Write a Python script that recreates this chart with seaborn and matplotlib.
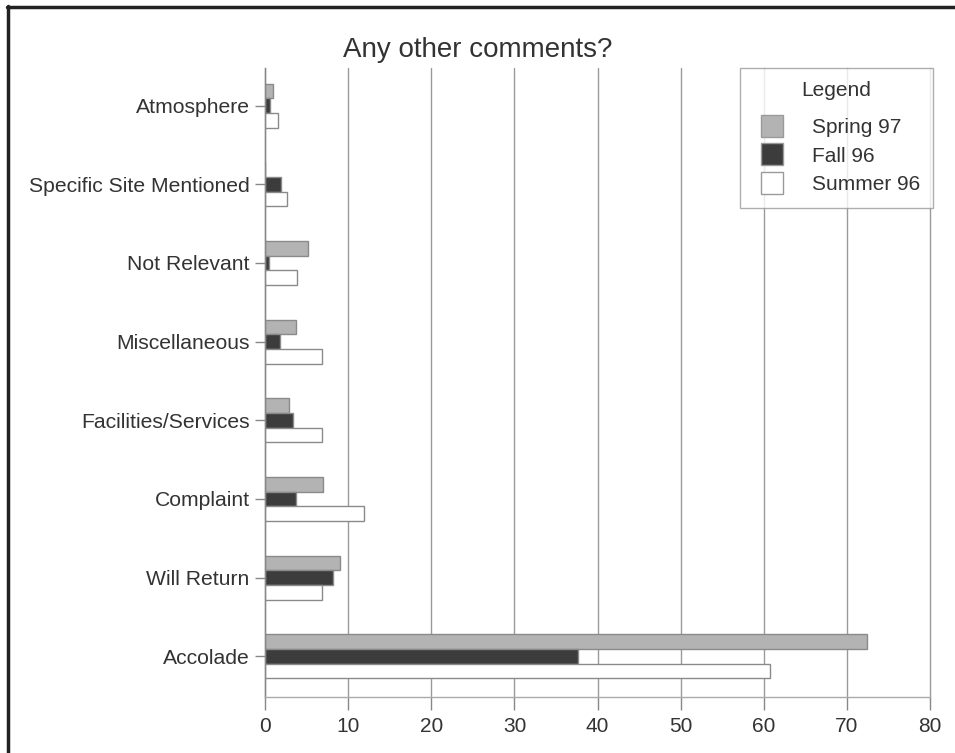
import matplotlib
matplotlib.use("Agg")
import matplotlib.pyplot as plt
import seaborn as sns
import pandas as pd
from matplotlib.lines import Line2D

categories = ["Atmosphere", "Specific Site Mentioned", "Not Relevant", "Miscellaneous",
              "Facilities/Services", "Complaint", "Will Return", "Accolade"]
series = ["Spring 97", "Fall 96", "Summer 96"]
spring97 = [1.0, 0.0, 5.2, 3.7, 2.9, 7.0, 9.0, 72.4]
fall96 = [0.6, 1.9, 0.5, 1.8, 3.4, 3.7, 8.2, 37.7]
summer96 = [1.6, 2.7, 3.8, 6.9, 6.9, 11.9, 6.9, 60.7]
xticks = [0, 10, 20, 30, 40, 50, 60, 70, 80]

rows = []
for name, vals in zip(series, [spring97, fall96, summer96]):
    for c, v in zip(categories, vals):
        rows.append({"Category": c, "Series": name, "Value": v})
df = pd.DataFrame(rows)

sns.set_theme(style="white")
plt.rcParams["font.family"] = ["Liberation Sans", "DejaVu Sans"]

fig = plt.figure(figsize=(9.55, 7.53), dpi=100)
ax = fig.add_axes([0.2775, 0.074, 0.6965, 0.836])

palette = {"Spring 97": "#b3b3b3", "Fall 96": "#3c3c3c", "Summer 96": "#ffffff"}
sns.barplot(data=df, y="Category", x="Value", hue="Series", order=categories,
            hue_order=series, palette=palette, orient="h", width=0.56,
            edgecolor="#8a8a8a", linewidth=1.0, ax=ax, legend=False, saturation=1)

ax.set_xlim(0, 80)
ax.set_ylim(len(categories) - 1 + 0.52, -0.48)
ax.set_xticks(xticks)
ax.set_xticklabels([str(t) for t in xticks], fontsize=15, color="#333333")
ax.tick_params(axis="y", labelsize=15.2, labelcolor="#333333", length=7, color="#888888",
               width=1, direction="out", pad=4, left=True)
ax.tick_params(axis="x", length=9, color="#888888", width=1, direction="out", pad=5,
               bottom=True)
ax.set_xlabel("")
ax.set_ylabel("")
ax.xaxis.grid(True, color="#9a9a9a", linewidth=1.0)
for gl in ax.get_xgridlines():
    gl.set_clip_on(False)
ax.yaxis.grid(False)
ax.set_axisbelow(True)
for s in ["top", "right"]:
    ax.spines[s].set_visible(False)
ax.spines["left"].set_color("#888888")
ax.spines["bottom"].set_color("#aaaaaa")
ax.spines["left"].set_linewidth(1.0)
ax.spines["bottom"].set_linewidth(1.0)

fig.text(0.5, 0.933, "Any other comments?", ha="center", va="center", fontsize=20,
         color="#333333")

handles = [Line2D([0], [0], marker="s", linestyle="", markersize=16,
                  markerfacecolor=palette[s], markeredgecolor="#9a9a9a", label=s)
           for s in series]
leg = ax.legend(handles=handles, title="Legend", loc="upper right",
                bbox_to_anchor=(1.005, 1.0), fontsize=15, title_fontsize=15,
                frameon=True, fancybox=False, edgecolor="#9a9a9a", borderpad=0.65,
                handletextpad=1.0, labelspacing=0.45, borderaxespad=0.0,
                handlelength=1.8)
leg._legend_box.sep = 13
leg.get_frame().set_linewidth(1.0)
leg.get_title().set_color("#333333")
for t in leg.get_texts():
    t.set_color("#333333")

# figure frame lines (top and left)
fig.add_artist(Line2D([0.007, 1.0], [0.991, 0.991], transform=fig.transFigure,
                      color="#222222", linewidth=2.5))
fig.add_artist(Line2D([0.008, 0.008], [0.0, 0.992], transform=fig.transFigure,
                      color="#222222", linewidth=2.5))

fig.savefig("out.png", dpi=100)
